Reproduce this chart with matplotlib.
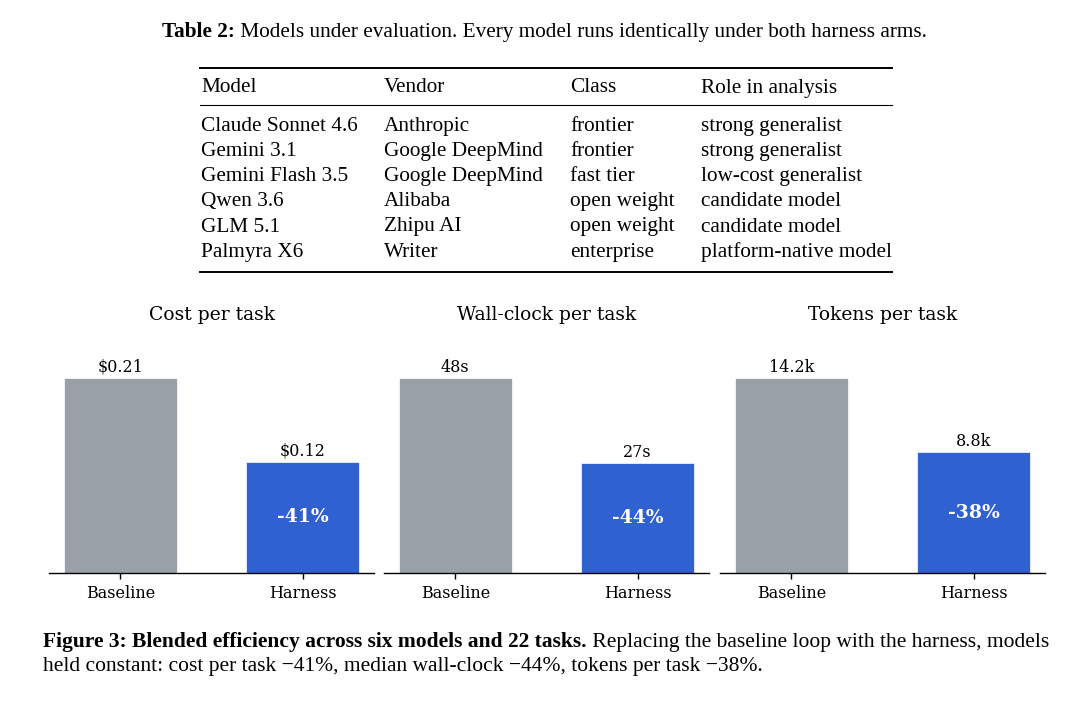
import matplotlib
matplotlib.use("Agg")
import matplotlib.pyplot as plt
from matplotlib.lines import Line2D
from matplotlib.text import Annotation

W, H = 1080, 704

# table data
table_title_bold = "Table 2:"
table_title_rest = " Models under evaluation. Every model runs identically under both harness arms."
columns = ["Model", "Vendor", "Class", "Role in analysis"]
models = ["Claude Sonnet 4.6", "Gemini 3.1", "Gemini Flash 3.5", "Qwen 3.6", "GLM 5.1", "Palmyra X6"]
vendors = ["Anthropic", "Google DeepMind", "Google DeepMind", "Alibaba", "Zhipu AI", "Writer"]
classes = ["frontier", "frontier", "fast tier", "open weight", "open weight", "enterprise"]
roles = ["strong generalist", "strong generalist", "low-cost generalist", "candidate model",
         "candidate model", "platform-native model"]

# bar panel data
arms = ["Baseline", "Harness"]
panel_titles = ["Cost per task", "Wall-clock per task", "Tokens per task"]
cost = [0.21, 0.12]
wallclock = [48, 27]
tokens = [14.2, 8.8]
reductions = [-41, -44, -38]
label_fmt = [lambda v: r"\${:.2f}".format(v), lambda v: "{:d}s".format(v), lambda v: "{:.1f}k".format(v)]

caption_bold = "Figure 3: Blended efficiency across six models and 22 tasks."
caption_rest = " Replacing the baseline loop with the harness, models"
caption_line2 = "held constant: cost per task \u221241%, median wall-clock \u221244%, tokens per task \u221238%."

GRAY = "#9aa0a8"
BLUE = "#3061d1"
TNR = "Liberation Serif"
SERIF = "DejaVu Serif"
FS = 15.3


def px(x, y):
    return x / W, 1 - y / H


def after(fig, anchor, text, **kw):
    # continue a line of text right after another text artist
    a = Annotation(text, xy=(1, 0), xycoords=anchor, ha="left", va="bottom",
                   annotation_clip=False, **kw)
    fig.add_artist(a)
    return a


fig = plt.figure(figsize=(W / 100, H / 100), dpi=100)

# --- table ---
t1 = fig.text(*px(162, 37), table_title_bold, fontsize=FS, fontweight="bold", family=TNR,
              ha="left", va="baseline")
after(fig, t1, table_title_rest, fontsize=FS, family=TNR)

col_x = [201, 384, 570, 701]
for x, name in zip(col_x, columns):
    fig.text(*px(x, 92.5), name, fontsize=FS, family=TNR, ha="left", va="baseline")
row_y0, row_dy = 130.7, 25.2
for i, row in enumerate(zip(models, vendors, classes, roles)):
    for x, cell in zip(col_x, row):
        fig.text(*px(x, row_y0 + i * row_dy), cell, fontsize=FS, family=TNR,
                 ha="left", va="baseline")

for y, lw in [(67.5, 1.4), (105, 0.8), (271.5, 1.4)]:
    fig.add_artist(Line2D([200 / W, 892 / W], [1 - y / H] * 2, color="black", lw=lw,
                          transform=fig.transFigure))

# --- bar panels ---
panel_left = [49, 384, 720]
series = [cost, wallclock, tokens]
for k, (left, vals) in enumerate(zip(panel_left, series)):
    ax = fig.add_axes([left / W, 1 - 573 / H, 325 / W, 234 / H])
    xs = range(len(arms))
    ax.bar(xs, vals, width=0.62, color=[GRAY, BLUE], edgecolor="white", linewidth=0.5)
    ax.set_ylim(0, max(vals) * 1.2)
    for x, v in zip(xs, vals):
        ax.annotate(label_fmt[k](v), xy=(x, v), xytext=(0, 1.5), textcoords="offset points",
                    ha="center", va="bottom", fontsize=11.5, family=SERIF)
    ax.text(1, vals[1] / 2, "{:d}%".format(reductions[k]), ha="center", va="center",
            color="white", fontsize=13.5, fontweight="bold", family=SERIF)
    ax.set_xticks(list(xs))
    ax.set_xticklabels(arms, fontsize=11.5, family=SERIF)
    ax.set_yticks([])
    for s in ["left", "top", "right"]:
        ax.spines[s].set_visible(False)
    ax.spines["bottom"].set_linewidth(1.0)
    ax.tick_params(axis="x", length=4, width=1, pad=5)
    ax.set_title(panel_titles[k], fontsize=13.5, family=SERIF, pad=14)

# --- caption ---
c1 = fig.text(*px(43, 647), caption_bold, fontsize=15.5, fontweight="bold", family=TNR,
              ha="left", va="baseline")
after(fig, c1, caption_rest, fontsize=15.5, family=TNR)
fig.text(*px(43, 671.5), caption_line2, fontsize=15.5, family=TNR, ha="left", va="baseline")

fig.savefig("out.png", dpi=100)
